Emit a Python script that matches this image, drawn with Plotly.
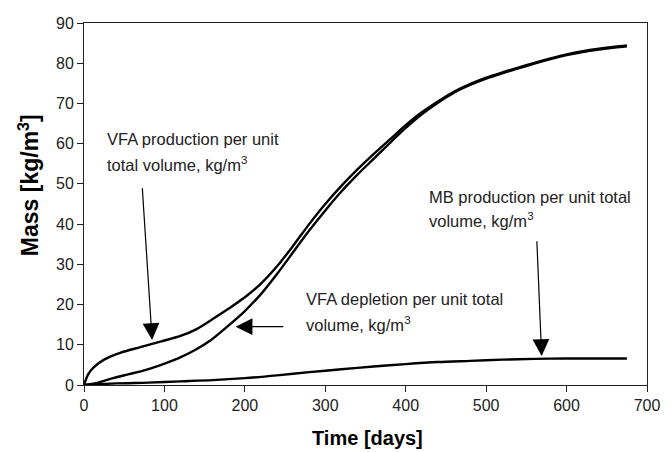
import plotly.graph_objects as go

# ---- data ----
prod_days = [0, 5, 12, 25, 45, 70, 95, 120, 140, 160, 180, 200, 220, 240, 260, 280, 300, 320, 340, 360, 380, 400,
             420, 440, 460, 480, 500, 520, 540, 560, 580, 600, 620, 640, 660, 675]
prod_vals = [0, 2.6, 4.4, 6.3, 8.0, 9.4, 10.8, 12.2, 13.9, 16.4, 19.0, 21.8, 25.2, 29.5, 34.6, 40.0, 45.0, 49.5, 53.6,
             57.4, 61.0, 64.6, 67.8, 70.5, 72.9, 74.8, 76.4, 77.7, 78.9, 80.1, 81.2, 82.2, 83.0, 83.6, 84.1, 84.4]

depl_days = [0, 16, 36, 56, 76, 96, 117, 138, 158, 178, 199, 220, 240, 260, 280, 300, 320, 340, 360, 380, 400, 420,
             440, 460, 480, 500, 520, 540, 560, 580, 600, 620, 640, 660, 675]
depl_vals = [0, 0.5, 1.7, 2.7, 3.7, 5.0, 6.6, 8.7, 11.2, 14.5, 18.2, 22.6, 27.6, 33.0, 38.4, 43.4, 48.1, 52.3, 56.2,
             60.1, 63.9, 67.3, 70.2, 72.7, 74.6, 76.2, 77.5, 78.7, 79.9, 81.0, 82.0, 82.8, 83.4, 83.9, 84.2]

mb_days = [0, 40, 80, 120, 160, 200, 240, 280, 320, 360, 400, 440, 480, 520, 560, 600, 640, 675]
mb_vals = [0, 0.4, 0.6, 0.9, 1.2, 1.7, 2.4, 3.2, 3.9, 4.6, 5.2, 5.7, 6.0, 6.3, 6.5, 6.6, 6.6, 6.6]

x_ticks = [0, 100, 200, 300, 400, 500, 600, 700]
y_ticks = [0, 10, 20, 30, 40, 50, 60, 70, 80, 90]

FONT = "Liberation Sans, Arial, sans-serif"
TXT = "#222222"

fig = go.Figure()
for xs, ys in [(prod_days, prod_vals), (depl_days, depl_vals), (mb_days, mb_vals)]:
    fig.add_trace(go.Scatter(x=xs, y=ys, mode="lines",
                             line=dict(color="black", width=2.4, shape="spline", smoothing=0.8),
                             showlegend=False, hoverinfo="skip"))

ann = []
labels = [
    (25.7, 61.2, "VFA production per unit"),
    (25.7, 55.0, "total volume, kg/m<sup>3</sup>"),
    (273.9, 21.4, "VFA depletion per unit total"),
    (273.9, 15.2, "volume, kg/m<sup>3</sup>"),
    (426.7, 46.8, "MB production per unit total"),
    (426.7, 41.0, "volume, kg/m<sup>3</sup>"),
]
for x, y, t in labels:
    ann.append(dict(x=x, y=y, xref="x", yref="y", text=t, showarrow=False, xanchor="left", yanchor="middle",
                    font=dict(family=FONT, size=16.5, color=TXT)))

arrows = [
    (84.7, 11.2, 72.4, 49.3),
    (188.5, 14.5, 249.6, 14.5),
    (569.0, 7.2, 563.0, 36.1),
]
for x, y, ax, ay in arrows:
    ann.append(dict(x=x, y=y, ax=ax, ay=ay, xref="x", yref="y", axref="x", ayref="y", text="",
                    showarrow=True, arrowhead=2, arrowsize=2.8, arrowwidth=1.2, arrowcolor="black", standoff=0))

ann.append(dict(x=0.503, y=-0.146, xref="paper", yref="paper", text="<b>Time [days]</b>", showarrow=False,
                xanchor="center", yanchor="middle", font=dict(family=FONT, size=20, color="black")))
ann.append(dict(x=-0.0977, y=0.552, xref="paper", yref="paper", text="<b>Mass [kg/m<sup>3</sup>]</b>", showarrow=False,
                xanchor="center", yanchor="middle", textangle=-90, font=dict(family=FONT, size=23, color="black")))

axis_common = dict(showgrid=False, zeroline=False, showline=True, linecolor="#222222", linewidth=1,
                   mirror=True, ticks="outside", ticklen=6, tickcolor="#222222",
                   tickfont=dict(family=FONT, size=16, color=TXT))

fig.update_layout(
    width=672, height=452,
    margin=dict(l=84, r=15, t=23, b=67),
    paper_bgcolor="white", plot_bgcolor="white",
    xaxis=dict(range=[0, 700], tickvals=x_ticks, **axis_common),
    yaxis=dict(range=[0, 90], tickvals=y_ticks, **axis_common),
    annotations=ann,
)
fig.write_html("out.html")
